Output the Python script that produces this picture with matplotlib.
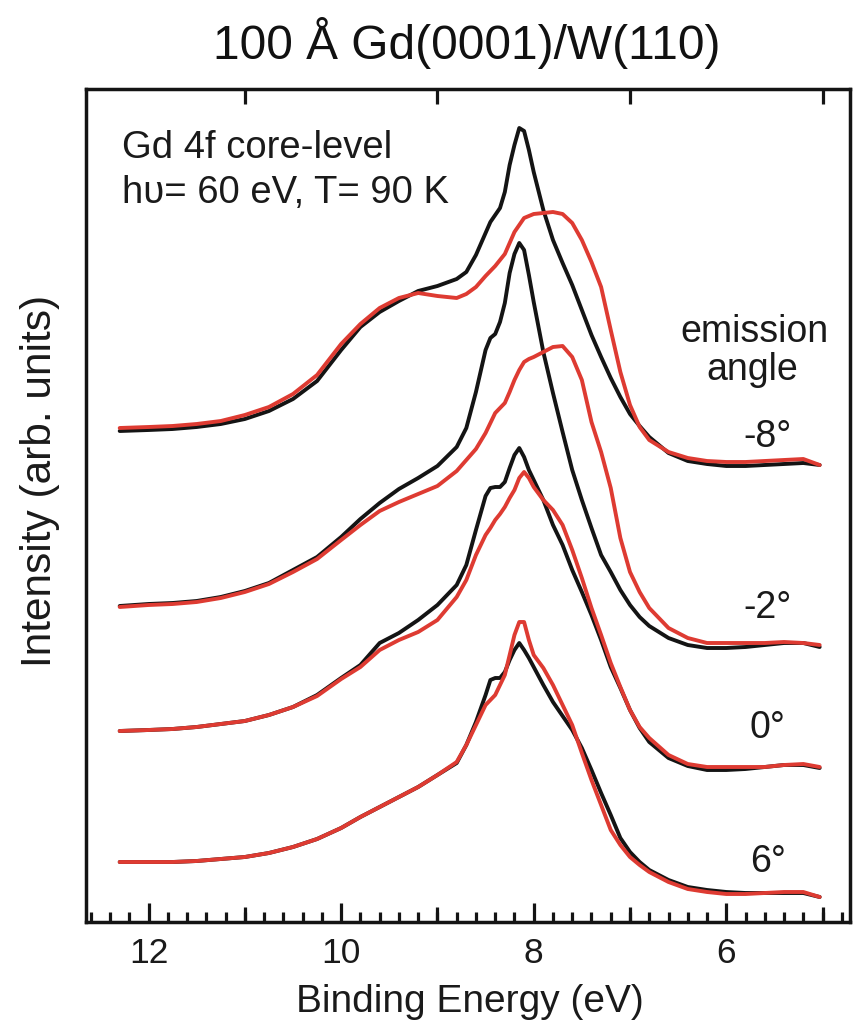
import numpy as np
import matplotlib.pyplot as plt
from matplotlib.ticker import MultipleLocator, FixedLocator, NullFormatter

plt.rcParams['font.family'] = ['Liberation Sans', 'DejaVu Sans']

# binding energy grid (eV), shared by all spectra
energy = [12.3, 12.0, 11.75, 11.5, 11.25, 11.0, 10.75, 10.5, 10.25, 10.0,
          9.8, 9.6, 9.4, 9.2, 9.0, 8.8, 8.7, 8.6, 8.5, 8.45,
          8.4, 8.35, 8.3, 8.25, 8.2, 8.15, 8.1, 8.05, 8.0, 7.9,
          7.8, 7.7, 7.6, 7.5, 7.4, 7.3, 7.2, 7.1, 7.0, 6.9,
          6.8, 6.6, 6.4, 6.2, 6.0, 5.8, 5.6, 5.4, 5.2, 5.03]

# intensities (arb. units, already offset), black / red spectra per emission angle
black_m8 = [491, 492, 493, 495, 498, 503, 511, 523, 541, 572,
            595, 610, 621, 631, 636, 643, 650, 667, 689, 700,
            707, 714, 730, 757, 777, 794, 791, 772, 750, 712,
            682, 659, 637, 612, 587, 565, 544, 525, 508, 496,
            485, 469, 461, 458, 456, 456, 457, 458, 459, 457]
red_m8 = [494, 495, 496, 498, 501, 507, 515, 528, 547, 578,
          598, 614, 624, 629, 626, 624, 628, 635, 646, 651,
          656, 662, 668, 679, 690, 697, 704, 706, 708, 709,
          710, 708, 699, 682, 660, 635, 592, 550, 517, 495,
          482, 470, 464, 461, 460, 460, 461, 462, 463, 457]

black_m2 = [316, 318, 319, 321, 325, 331, 339, 352, 365, 385,
            403, 419, 433, 444, 456, 475, 494, 530, 572, 584,
            588, 600, 619, 649, 668, 679, 672, 647, 620, 570,
            529, 490, 452, 422, 394, 367, 350, 332, 317, 305,
            296, 284, 277, 274, 274, 275, 277, 279, 279, 275]
red_m2 = [315, 317, 318, 320, 324, 330, 338, 350, 363, 382,
          397, 411, 420, 428, 436, 451, 462, 473, 489, 499,
          509, 514, 519, 530, 542, 552, 560, 563, 565, 570,
          575, 576, 565, 542, 500, 470, 434, 384, 350, 330,
          314, 294, 284, 279, 279, 279, 279, 280, 279, 277]

black_0 = [191, 192, 193, 195, 198, 201, 207, 215, 227, 244,
           257, 279, 289, 302, 317, 337, 357, 392, 426, 434,
           435, 435, 440, 454, 467, 474, 465, 452, 442, 422,
           397, 377, 352, 330, 307, 282, 255, 234, 212, 194,
           180, 164, 156, 152, 152, 153, 155, 157, 157, 154]
red_0 = [191, 192, 193, 195, 198, 201, 207, 215, 226, 243,
         255, 272, 282, 290, 302, 325, 342, 367, 387, 394,
         402, 408, 415, 424, 432, 444, 450, 444, 435, 422,
         412, 397, 372, 344, 314, 287, 259, 235, 212, 195,
         184, 167, 158, 155, 155, 155, 155, 157, 158, 155]

black_6 = [60, 60, 60, 61, 63, 65, 69, 75, 83, 94,
           105, 115, 125, 135, 147, 159, 177, 200, 227, 242,
           244, 244, 250, 262, 272, 279, 272, 264, 255, 237,
           220, 206, 192, 174, 152, 129, 107, 84, 70, 60,
           52, 42, 35, 32, 30, 29, 29, 29, 29, 25]
red_6 = [60, 60, 60, 61, 63, 65, 69, 75, 83, 94,
         105, 115, 125, 135, 147, 160, 177, 197, 217, 222,
         227, 237, 247, 267, 287, 300, 300, 282, 267, 254,
         237, 217, 197, 169, 142, 117, 92, 77, 65, 57,
         50, 40, 33, 30, 28, 28, 29, 30, 30, 25]

angles = ['-8°', '-2°', '0°', '6°']
black_spectra = [black_m8, black_m2, black_0, black_6]
red_spectra = [red_m8, red_m2, red_0, red_6]

W, H = 855, 1022
fig = plt.figure(figsize=(W / 100, H / 100), dpi=100)
ax = fig.add_axes([86 / W, 1 - 922 / H, (850 - 86) / W, (922 - 89) / H])

for blk, red in zip(black_spectra, red_spectra):
    ax.plot(energy, blk, color='#141414', lw=2.8, solid_joinstyle='round',
            solid_capstyle='round')
    ax.plot(energy, red, color='#de3b32', lw=2.8, solid_joinstyle='round',
            solid_capstyle='round')

ax.set_xlim(12.65, 4.715)
ax.set_ylim(0, 833)

# ticks: majors every 2 eV, minors every 0.2 eV, inward on top and bottom
ax.xaxis.set_major_locator(FixedLocator([12, 10, 8, 6]))
ax.xaxis.set_minor_locator(MultipleLocator(0.2))
ax.tick_params(axis='x', which='both', direction='in', top=True, bottom=True,
               labelsize=25.5, pad=11, color='#141414', labelcolor='#1a1a1a')
ax.tick_params(axis='x', which='major', length=13.5, width=2.3)
ax.tick_params(axis='x', which='minor', length=7.5, width=2.3)
ax.set_yticks([])
for sp in ax.spines.values():
    sp.set_linewidth(2.5)
    sp.set_color('#141414')

# medium ticks at odd energies
ax2 = ax.twiny()
ax2.set_xlim(ax.get_xlim())
ax2.xaxis.set_major_locator(FixedLocator([11, 9, 7, 5]))
ax2.xaxis.set_major_formatter(NullFormatter())
ax2.tick_params(axis='x', which='major', direction='in', top=True, bottom=True,
                labeltop=False, labelbottom=False, length=10.5, width=2.3,
                color='#141414')
ax2.set_yticks([])
for sp in ax2.spines.values():
    sp.set_visible(False)

fig.text(470 / W, 1 - 1012 / H, 'Binding Energy (eV)', fontsize=28,
         ha='center', va='baseline', color='#1a1a1a')
fig.text(40 / W, 1 - 481 / H, 'Intensity (arb. units)', fontsize=30.5,
         rotation=90, ha='center', va='center', color='#1a1a1a')
fig.text(467 / W, 1 - 59 / H, '100 Å Gd(0001)/W(110)', fontsize=34.5,
         ha='center', va='baseline', color='#111111')

ax.text(12.275, 764, 'Gd 4f core-level', fontsize=27.5, ha='left',
        va='baseline', color='#1a1a1a')
ax.text(12.275, 719, 'hυ= 60 eV, T= 90 K', fontsize=27.5, ha='left',
        va='baseline', color='#1a1a1a')

ax.text(5.71, 590, 'emission', fontsize=27, ha='center', va='center',
        color='#1a1a1a')
ax.text(5.73, 552, 'angle', fontsize=27, ha='center', va='center',
        color='#1a1a1a')
for lab, yy in zip(angles, [485, 314, 194, 60]):
    ax.text(5.57, yy, lab, fontsize=27, ha='center', va='center',
            color='#1a1a1a')

fig.savefig('out.png', dpi=100)
